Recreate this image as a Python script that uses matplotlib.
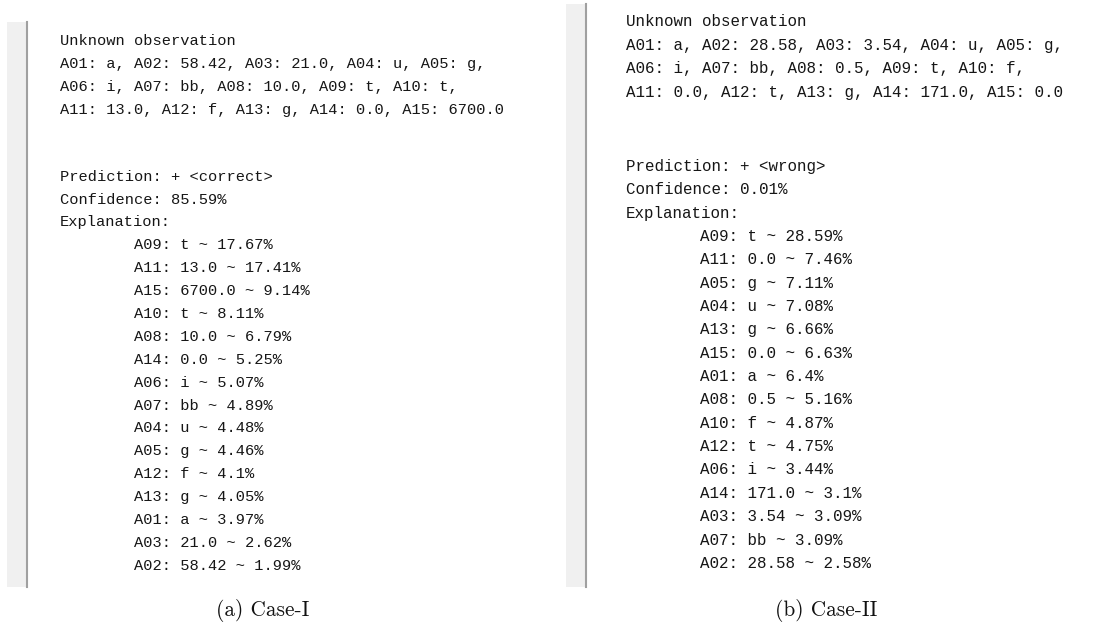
import matplotlib
matplotlib.use("Agg")
import matplotlib.pyplot as plt
from matplotlib.patches import Rectangle

# Case I
obs_1 = ["A01: a, A02: 58.42, A03: 21.0, A04: u, A05: g,",
         "A06: i, A07: bb, A08: 10.0, A09: t, A10: t,",
         "A11: 13.0, A12: f, A13: g, A14: 0.0, A15: 6700.0"]
pred_1 = "+ <correct>"
conf_1 = "85.59%"
feat_1 = ["A09", "A11", "A15", "A10", "A08", "A14", "A06", "A07",
          "A04", "A05", "A12", "A13", "A01", "A03", "A02"]
val_1 = ["t", "13.0", "6700.0", "t", "10.0", "0.0", "i", "bb",
         "u", "g", "f", "g", "a", "21.0", "58.42"]
pct_1 = ["17.67", "17.41", "9.14", "8.11", "6.79", "5.25", "5.07", "4.89",
         "4.48", "4.46", "4.1", "4.05", "3.97", "2.62", "1.99"]

# Case II
obs_2 = ["A01: a, A02: 28.58, A03: 3.54, A04: u, A05: g,",
         "A06: i, A07: bb, A08: 0.5, A09: t, A10: f,",
         "A11: 0.0, A12: t, A13: g, A14: 171.0, A15: 0.0"]
pred_2 = "+ <wrong>"
conf_2 = "0.01%"
feat_2 = ["A09", "A11", "A05", "A04", "A13", "A15", "A01", "A08",
          "A10", "A12", "A06", "A14", "A03", "A07", "A02"]
val_2 = ["t", "0.0", "g", "u", "g", "0.0", "a", "0.5",
         "f", "t", "i", "171.0", "3.54", "bb", "28.58"]
pct_2 = ["28.59", "7.46", "7.11", "7.08", "6.66", "6.63", "6.4", "5.16",
         "4.87", "4.75", "3.44", "3.1", "3.09", "3.09", "2.58"]

captions = ["(a) Case-I", "(b) Case-II"]

W, H = 1099, 622
fig = plt.figure(figsize=(W / 100, H / 100), dpi=100)
ax = fig.add_axes([0, 0, 1, 1])
ax.set_xlim(0, W)
ax.set_ylim(H, 0)
ax.axis("off")


def panel(x_strip, y_top, x_text, y0, dy, dy_gap, fs, indent, obs, pred, conf, feats, vals, pcts, caption, x_cap, cap_fs):
    mono = dict(family="Liberation Mono", fontsize=fs, color="#161616",
                va="center", ha="left")
    # grey gutter and separator line of the console window
    ax.add_patch(Rectangle((x_strip, y_top), 19, 587 - y_top, facecolor="#f0f0f0", edgecolor="none"))
    ax.plot([x_strip + 19.5, x_strip + 19.5], [y_top, 587], color="#a0a0a0", lw=1.5)
    lines = ["Unknown observation"] + obs
    y = y0
    for s in lines:
        ax.text(x_text, y, s, **mono)
        y += dy
    y += dy_gap
    for s in ["Prediction: " + pred, "Confidence: " + conf, "Explanation:"]:
        ax.text(x_text, y, s, **mono)
        y += dy
    for f, v, p in zip(feats, vals, pcts):
        ax.text(x_text + indent, y, f"{f}: {v} ~ {p}%", **mono)
        y += dy
    ax.text(x_cap, 610, caption, family=["cmr10", "DejaVu Serif"], fontsize=cap_fs,
            color="#111111", ha="center", va="center")


panel(7, 22, 60, 41, 22.9, 44, 11.1, 74, obs_1, pred_1, conf_1, feat_1, val_1, pct_1, captions[0], 263, 15.3)
panel(566, 4, 626, 22, 23.35, 51, 11.4, 74, obs_2, pred_2, conf_2, feat_2, val_2, pct_2, captions[1], 826, 15.3)

fig.savefig("out.png", dpi=100)
